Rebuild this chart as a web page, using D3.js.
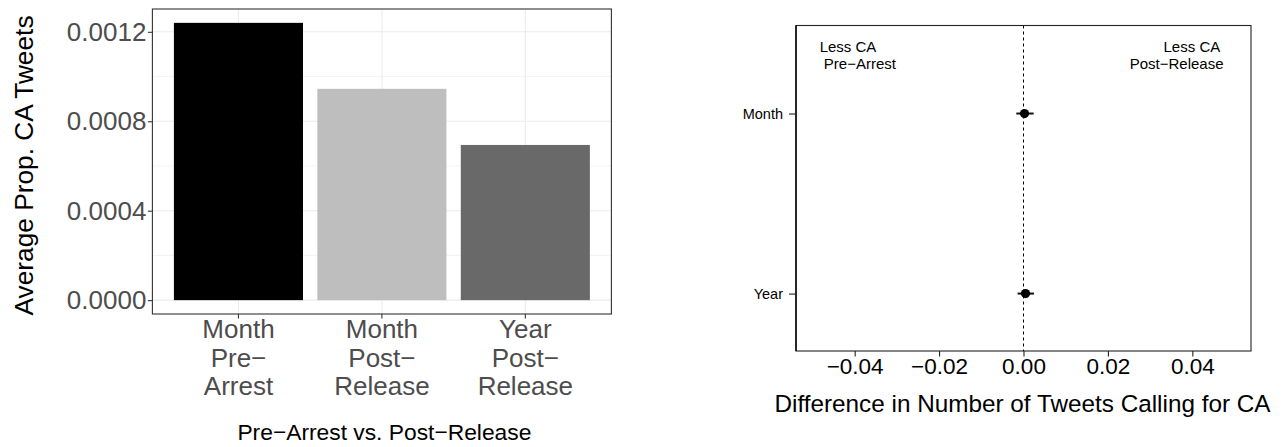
<!DOCTYPE html>
<html>
<head>
<meta charset="utf-8">
<script src="https://cdn.jsdelivr.net/npm/d3@7"></script>
<style>
  html, body { margin: 0; padding: 0; background: #fff; }
  svg { display: block; font-family: "Liberation Sans", Arial, Helvetica, sans-serif; }
</style>
</head>
<body>
<svg id="chart" width="1285" height="447"></svg>
<script>
// Bar panel: average proportion of tweets calling for collective action
const barCategories = ["Month\nPre−\nArrest", "Month\nPost−\nRelease", "Year\nPost−\nRelease"];
const barValues = [0.00124, 0.000945, 0.000694];
const barFills = ["#000000", "#BEBEBE", "#696969"];
const barYTicks = [0, 0.0004, 0.0008, 0.0012];
const barYMinor = [0.0002, 0.0006, 0.0010];

// Estimate panel: difference pre-arrest vs post-release, with intervals
const estPeriods = ["Month", "Year"];
const estValues = [0.00024, 0.00047];
const estLower = [-0.0017, -0.0014];
const estUpper = [0.0024, 0.0025];
const estXTicks = [-0.04, -0.02, 0.00, 0.02, 0.04];
const estXLimit = 0.0539;
const noteLabels = [["Less CA", " Pre−Arrest"], ["Less CA ", "Post−Release"]];
const noteX = [-0.0483, 0.0474];
const noteY = 2.343;

const svg = d3.select("#chart");

/* ---------- left: bar chart ---------- */
const L = { left: 152.4, right: 611.4, top: 9, bottom: 314 };
const maxBar = d3.max(barValues);
const xBar = d3.scaleBand().domain(barCategories)
  .range([L.left, L.right]).paddingInner(0.1).paddingOuter(0.15);
const yBar = d3.scaleLinear().domain([-0.05 * maxBar, 1.05 * maxBar]).range([L.bottom, L.top]);

const gL = svg.append("g");
// grid
gL.selectAll("line.minor").data(barYMinor).join("line")
  .attr("x1", L.left).attr("x2", L.right)
  .attr("y1", d => yBar(d)).attr("y2", d => yBar(d))
  .attr("stroke", "#f0f0f0").attr("stroke-width", 0.8);
gL.selectAll("line.majorY").data(barYTicks).join("line")
  .attr("x1", L.left).attr("x2", L.right)
  .attr("y1", d => yBar(d)).attr("y2", d => yBar(d))
  .attr("stroke", "#ebebeb").attr("stroke-width", 1.1);
gL.selectAll("line.majorX").data(barCategories).join("line")
  .attr("x1", d => xBar(d) + xBar.bandwidth() / 2).attr("x2", d => xBar(d) + xBar.bandwidth() / 2)
  .attr("y1", L.top).attr("y2", L.bottom)
  .attr("stroke", "#ebebeb").attr("stroke-width", 1.1);

// bars
gL.selectAll("rect.bar").data(barValues).join("rect")
  .attr("x", (d, i) => xBar(barCategories[i]))
  .attr("width", xBar.bandwidth())
  .attr("y", d => yBar(d))
  .attr("height", d => yBar(0) - yBar(d))
  .attr("fill", (d, i) => barFills[i]);

// panel border
gL.append("rect")
  .attr("x", L.left).attr("y", L.top)
  .attr("width", L.right - L.left).attr("height", L.bottom - L.top)
  .attr("fill", "none").attr("stroke", "#333333").attr("stroke-width", 1.1);

// y axis
const yAxisL = gL.append("g").attr("transform", `translate(${L.left},0)`)
  .call(d3.axisLeft(yBar).tickValues(barYTicks).tickFormat(d3.format(".4f")).tickSize(4.5).tickPadding(1.5));
yAxisL.select(".domain").remove();
yAxisL.selectAll(".tick line").attr("stroke", "#333333").attr("stroke-width", 1.1);
yAxisL.selectAll(".tick text").attr("fill", "#4d4d4d").attr("font-size", 26)
  .attr("font-family", "Liberation Sans, Arial, sans-serif");

// x axis
const xAxisL = gL.append("g").attr("transform", `translate(0,${L.bottom})`)
  .call(d3.axisBottom(xBar).tickSize(4.5).tickFormat(""));
xAxisL.select(".domain").remove();
xAxisL.selectAll(".tick line").attr("stroke", "#333333").attr("stroke-width", 1.1);
xAxisL.selectAll(".tick text").remove();
xAxisL.selectAll(".tick").append("text")
  .attr("fill", "#4d4d4d").attr("font-size", 26).attr("text-anchor", "middle")
  .attr("y", 24)
  .selectAll("tspan").data(d => d.split("\n")).join("tspan")
  .attr("x", 0).attr("dy", (d, i) => i === 0 ? 0 : 28.7)
  .text(d => d);

// axis titles
svg.append("text")
  .attr("transform", `translate(33,${(L.top + L.bottom) / 2 + 4}) rotate(-90)`)
  .attr("text-anchor", "middle").attr("font-size", 26.3).attr("fill", "#000")
  .text("Average Prop. CA Tweets");
svg.append("text")
  .attr("x", (L.left + L.right) / 2 + 2.5).attr("y", 440)
  .attr("text-anchor", "middle").attr("font-size", 22.8).attr("fill", "#000")
  .text("Pre−Arrest vs. Post−Release");

/* ---------- right: estimate plot ---------- */
const R = { left: 796, right: 1251, top: 25.5, bottom: 351 };
const xEst = d3.scaleLinear().domain([-estXLimit, estXLimit]).range([R.left, R.right]);
const yEst = d3.scaleLinear().domain([0.681, 2.489]).range([R.bottom, R.top]);
const periodPos = (i) => estPeriods.length - i;

const gR = svg.append("g");

// reference line at zero
gR.append("line")
  .attr("x1", xEst(0)).attr("x2", xEst(0))
  .attr("y1", R.top).attr("y2", R.bottom)
  .attr("stroke", "#000").attr("stroke-width", 1).attr("stroke-dasharray", "3,3");

// intervals and point estimates
gR.selectAll("line.ci").data(estValues).join("line")
  .attr("x1", (d, i) => xEst(estLower[i])).attr("x2", (d, i) => xEst(estUpper[i]))
  .attr("y1", (d, i) => yEst(periodPos(i))).attr("y2", (d, i) => yEst(periodPos(i)))
  .attr("stroke", "#111").attr("stroke-width", 2);
gR.selectAll("circle.pt").data(estValues).join("circle")
  .attr("cx", d => xEst(d))
  .attr("cy", (d, i) => yEst(periodPos(i)))
  .attr("r", 4.6).attr("fill", "#000");

// box
gR.append("rect")
  .attr("x", R.left).attr("y", R.top)
  .attr("width", R.right - R.left).attr("height", R.bottom - R.top)
  .attr("fill", "none").attr("stroke", "#222").attr("stroke-width", 1.1);
gR.append("line")
  .attr("x1", R.left).attr("x2", R.left).attr("y1", R.top).attr("y2", R.bottom)
  .attr("stroke", "#111").attr("stroke-width", 1.6);

// y axis (periods)
const yAxisR = gR.append("g").attr("transform", `translate(${R.left},0)`)
  .call(d3.axisLeft(yEst).tickValues(estPeriods.map((p, i) => periodPos(i)))
    .tickFormat((d) => estPeriods[estPeriods.length - d]).tickSize(7).tickPadding(6));
yAxisR.select(".domain").remove();
yAxisR.selectAll(".tick line").attr("stroke", "#222").attr("stroke-width", 1.1);
yAxisR.selectAll(".tick text").attr("fill", "#000").attr("font-size", 14.5)
  .attr("font-family", "Liberation Sans, Arial, sans-serif");

// x axis
const xAxisR = gR.append("g").attr("transform", `translate(0,${R.bottom})`)
  .call(d3.axisBottom(xEst).tickValues(estXTicks).tickSize(5.5).tickPadding(2)
    .tickFormat(d => d3.format(".2f")(d).replace("-", "−")));
xAxisR.select(".domain").remove();
xAxisR.selectAll(".tick line").attr("stroke", "#222").attr("stroke-width", 1.1);
xAxisR.selectAll(".tick text").attr("fill", "#000").attr("font-size", 22.5)
  .attr("font-family", "Liberation Sans, Arial, sans-serif");

svg.append("text")
  .attr("x", (R.left + R.right) / 2 - 1).attr("y", 412)
  .attr("text-anchor", "middle").attr("font-size", 24.3).attr("fill", "#000")
  .text("Difference in Number of Tweets Calling for CA");

// corner notes
noteLabels.forEach((lines, k) => {
  const t = gR.append("text")
    .attr("x", xEst(noteX[k])).attr("y", yEst(noteY))
    .attr("text-anchor", k === 0 ? "start" : "end")
    .attr("font-size", 15).attr("fill", "#000")
    .attr("xml:space", "preserve").style("white-space", "pre");
  t.selectAll("tspan").data(lines).join("tspan")
    .attr("x", xEst(noteX[k])).attr("dy", (d, i) => i === 0 ? 0 : 17.5)
    .text(d => d);
});
</script>
</body>
</html>
